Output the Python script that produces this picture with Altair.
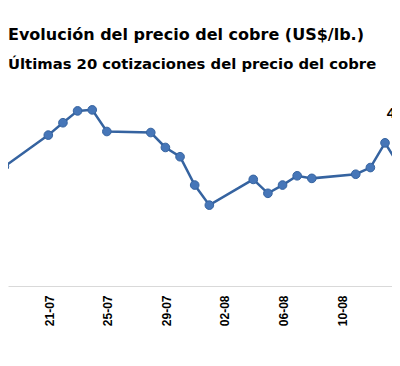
import altair as alt
import pandas as pd

# Copper price (US$/lb)
fechas = ["2025-07-17", "2025-07-18", "2025-07-21", "2025-07-22", "2025-07-23",
          "2025-07-24", "2025-07-25", "2025-07-28", "2025-07-29", "2025-07-30",
          "2025-07-31", "2025-08-01", "2025-08-04", "2025-08-05", "2025-08-06",
          "2025-08-07", "2025-08-08", "2025-08-11", "2025-08-12", "2025-08-13",
          "2025-08-14", "2025-08-15"]
precios = [4.421, 4.452, 4.513, 4.537, 4.560,
           4.562, 4.520, 4.518, 4.489, 4.471,
           4.416, 4.377, 4.427, 4.400, 4.416,
           4.434, 4.429, 4.437, 4.450, 4.498,
           4.452, 4.527]
etiqueta_texto = ["4,53"]
ticks = ["2025-07-21", "2025-07-25", "2025-07-29", "2025-08-02",
         "2025-08-06", "2025-08-10", "2025-08-14"]

titulo = "Evolución del precio del cobre (US$/lb.)"
subtitulo = "Últimas 20 cotizaciones del precio del cobre"


def dt(s, h=0, m=0):
    y, mo, d = map(int, s.split("-"))
    return alt.DateTime(year=y, month=mo, date=d, hours=h, minutes=m)


df = pd.DataFrame({"fecha": [f + "T00:00:00" for f in fechas], "precio": precios})
lab = pd.DataFrame({"fecha": [fechas[-1] + "T00:00:00"], "precio": [precios[-1]],
                    "texto": etiqueta_texto})

xscale = alt.Scale(domain=[dt("2025-07-18", 5, 56), dt("2025-08-13", 11, 27)])
yscale = alt.Scale(domain=[4.22, 4.62])

xaxis = alt.Axis(values=[dt(t) for t in ticks], format="%d-%m", labelAngle=270,
                 labelFont="Liberation Sans", labelFontWeight="bold", labelFontSize=12,
                 labelColor="black", labelPadding=9, labelOffset=1,
                 labelFlush=False, labelOverlap=False,
                 domainColor="#d9d9d9", domainWidth=1, ticks=False, grid=False, title=None)

X = alt.X("fecha:T", scale=xscale, axis=xaxis)
Y = alt.Y("precio:Q", scale=yscale, axis=None)

line = alt.Chart(df).mark_line(color="#3563a0", strokeWidth=2.5, clip=True).encode(x=X, y=Y)
pts = alt.Chart(df).mark_point(filled=True, size=75, fill="#4676b8", stroke="#3563a0",
                               strokeWidth=1, opacity=1, clip=True).encode(x=X, y=Y)
txt = alt.Chart(lab).mark_text(font="Liberation Sans", fontWeight="bold", fontSize=15,
                               color="black", dx=-13, dy=-15, clip=True).encode(
    x=X, y=Y, text="texto:N")

chart = alt.layer(line, pts, txt).properties(
    width=384, height=206,
    autosize=alt.AutoSizeParams(type="none"),
    padding={"left": 0, "top": 72, "right": 0, "bottom": 80},
    title=alt.TitleParams(text=titulo, subtitle=subtitulo, anchor="start",
                          font="DejaVu Sans", fontSize=16, fontWeight="bold", color="black",
                          subtitleFont="DejaVu Sans", subtitleFontSize=14.8,
                          subtitleFontWeight="bold", subtitleColor="black",
                          offset=8, subtitlePadding=14),
).configure(background="white").configure_view(stroke=None)

chart.save("out.html", embed_options={"renderer": "svg", "actions": False})
